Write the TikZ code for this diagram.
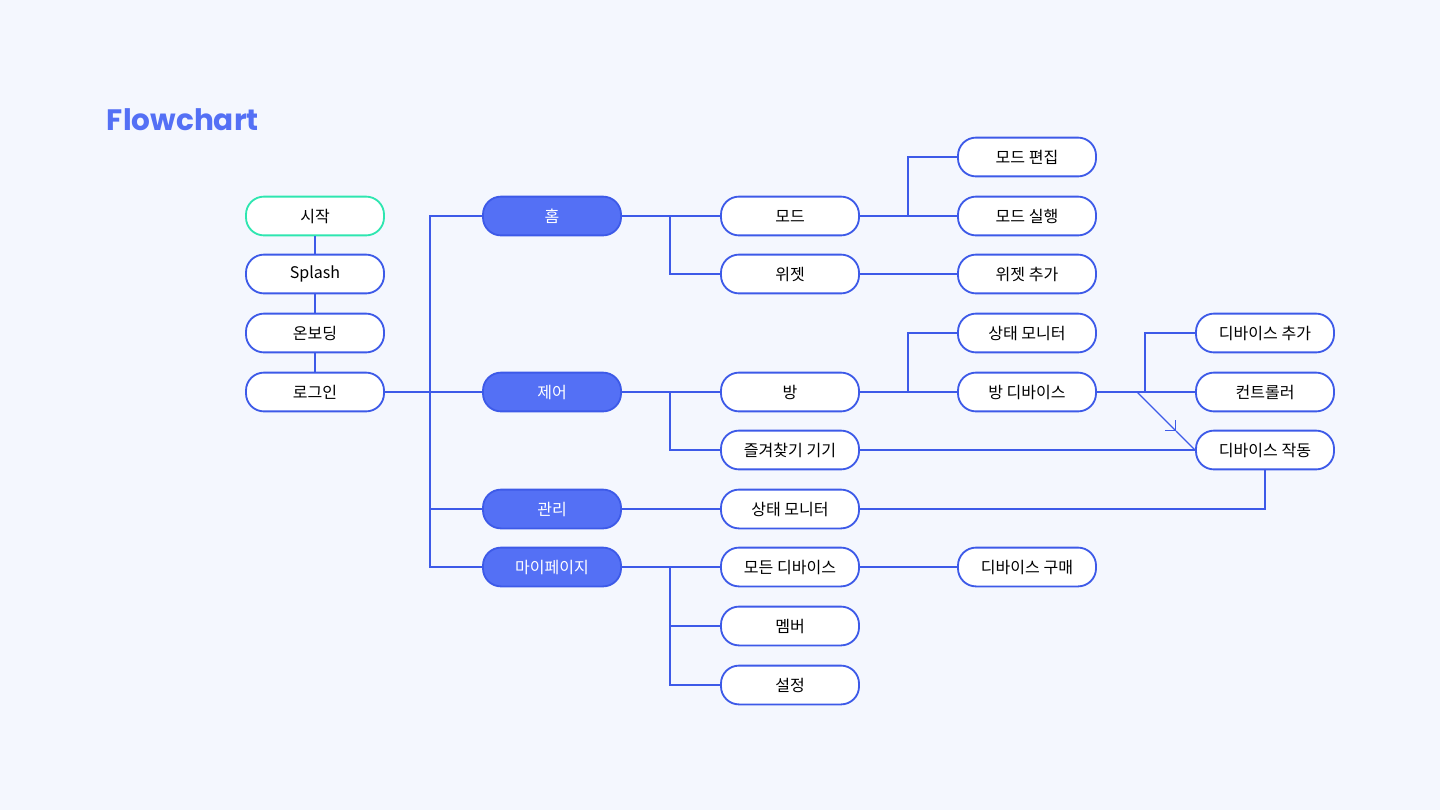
\documentclass[tikz,border=0pt]{standalone}
\usepackage{fontspec}
\setmainfont{Noto Sans CJK KR}
\newfontfamily\titlefont{Poppins}
\usetikzlibrary{arrows.meta}
\definecolor{bgcol}{HTML}{F4F7FE}
\definecolor{linecol}{HTML}{3D5AE8}
\definecolor{fillcol}{HTML}{5470F5}
\definecolor{startcol}{HTML}{2EE6B0}
\tikzset{
	box/.style={rectangle,rounded corners=18pt*0.711,draw=linecol,line width=1.3pt,fill=white,
		minimum width=3.45cm,minimum height=0.97cm,font=\fontsize{11.4}{13}\selectfont},
	menubox/.style={box,fill=fillcol,text=white},
	startbox/.style={box,draw=startcol},
	link/.style={draw=linecol,line width=0.9pt}
}
\begin{document}
\begin{tikzpicture}[x=0.025cm,y=-0.025cm]
		\fill[bgcol] (0,0) rectangle (1440,810);
		\useasboundingbox (0,0) rectangle (1440,810);
		\node[anchor=west,text=fillcol,font=\titlefont\bfseries\fontsize{21}{24}\selectfont] (title) at (102,120) {Flowchart};

		% start column
		\node[startbox] (start) at (315,216) {시작};
		\node[box] (splash) at (315,274) {Splash};
		\node[box] (onboard) at (315,333) {온보딩};
		\node[box] (login) at (315,392) {로그인};

		% main menus
		\node[menubox] (home) at (552,216) {홈};
		\node[menubox] (control) at (552,392) {제어};
		\node[menubox] (manage) at (552,509) {관리};
		\node[menubox] (mypage) at (552,567) {마이페이지};

		% third column
		\node[box] (mode) at (790,216) {모드};
		\node[box] (widget) at (790,274) {위젯};
		\node[box] (room) at (790,392) {방};
		\node[box] (fav) at (790,450) {즐겨찾기 기기};
		\node[box] (monitor) at (790,509) {상태 모니터};
		\node[box] (alldev) at (790,567) {모든 디바이스};
		\node[box] (member) at (790,626) {멤버};
		\node[box] (setting) at (790,685) {설정};

		% fourth column
		\node[box] (modeedit) at (1027,157) {모드 편집};
		\node[box] (moderun) at (1027,216) {모드 실행};
		\node[box] (widgetadd) at (1027,274) {위젯 추가};
		\node[box] (roommon) at (1027,333) {상태 모니터};
		\node[box] (roomdev) at (1027,392) {방 디바이스};
		\node[box] (buy) at (1027,567) {디바이스 구매};

		% fifth column
		\node[box] (devadd) at (1265,333) {디바이스 추가};
		\node[box] (ctrl) at (1265,392) {컨트롤러};
		\node[box] (devrun) at (1265,450) {디바이스 작동};

		\path (430,216) coordinate (trunk);
		\path (1137,392) coordinate (split);
		\path (1176,431) coordinate (mid);

		\begin{scope}[on background layer/.style={}]
		\draw[link] (start) -- (splash) -- (onboard) -- (login);
		\draw[link] (login) -- (control);
		\draw[link] (home.west) -| (trunk) |- (mypage.west);
		\draw[link] (trunk |- manage) -- (manage);
		\draw[link] (home) -- (mode);
		\draw[link] (670,216) |- (widget);
		\draw[link] (mode) -- (moderun);
		\draw[link] (908,216) |- (modeedit);
		\draw[link] (widget) -- (widgetadd);
		\draw[link] (control) -- (room);
		\draw[link] (670,392) |- (fav);
		\draw[link] (room) -- (roomdev);
		\draw[link] (908,392) |- (roommon);
		\draw[link] (roomdev) -- (ctrl);
		\draw[link] (1145,392) |- (devadd);
		\draw[link,-{Straight Barb[length=5pt]}] (split) -- (mid);
		\draw[link] (mid) -- (devrun.west);
		\draw[link] (fav) -- (devrun);
		\draw[link] (manage) -- (monitor);
		\draw[link] (monitor) -| (devrun);
		\draw[link] (mypage) -- (alldev);
		\draw[link] (670,567) |- (member);
		\draw[link] (670,567) |- (setting);
		\draw[link] (alldev) -- (buy);
		\end{scope}
\end{tikzpicture}
\end{document}
